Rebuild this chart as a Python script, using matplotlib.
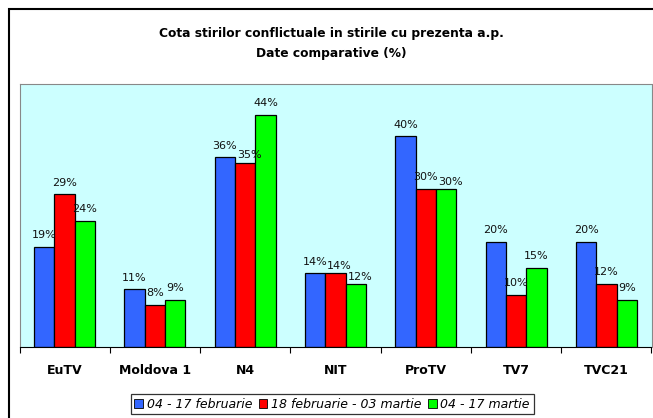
import matplotlib
matplotlib.use("Agg")
import matplotlib.pyplot as plt
import numpy as np
from matplotlib.patches import Patch, Rectangle

channels = ["EuTV", "Moldova 1", "N4", "NIT", "ProTV", "TV7", "TVC21"]
periods = ["04 - 17 februarie", "18 februarie - 03 martie", "04 - 17 martie"]
feb = [19, 11, 36, 14, 40, 20, 20]
feb_mar = [29, 8, 35, 14, 30, 10, 12]
mar = [24, 9, 44, 12, 30, 15, 9]
series = [feb, feb_mar, mar]
colors = ["#3366FF", "#FF0000", "#00FF00"]

W, H = 653, 418
fig = plt.figure(figsize=(W / 100, H / 100), dpi=100)

# outer chart frame (right/bottom run off the picture)
fig.patches.append(Rectangle((9 / W, -0.1), 1.2, (H - 9) / H + 0.1, transform=fig.transFigure,
                             fill=False, edgecolor="black", linewidth=1.5))

ax = fig.add_axes([19.5 / W, (H - 347.3) / H, 632 / W, (347.3 - 83.5) / H])
ax.set_facecolor("#CCFFFF")

x = np.arange(len(channels))
bw = 0.225
for i, (vals, c) in enumerate(zip(series, colors)):
    pos = x + (i - 1) * bw
    ax.bar(pos, vals, width=bw, color=c, edgecolor="black", linewidth=0.9, label=periods[i], zorder=2)
    for j, (px, v) in enumerate(zip(pos, vals)):
        dx, dy = 0, 8.4
        # stagger a label that would collide with its left neighbour
        if i > 0 and 0 <= series[i - 1][j] - v <= 2:
            dx, dy = 3, 5.2
        ax.annotate(f"{v}%", (px, v), xytext=(dx, dy), textcoords="offset points",
                    ha="center", va="center", fontsize=8, color="#111111")

ax.set_xlim(-0.5, len(channels) - 0.5)
ax.set_ylim(0, 50)
ax.set_yticks([])
ax.set_xticks(x)
ax.set_xticklabels(channels, fontsize=9, fontweight="bold")
ax.tick_params(axis="x", which="major", length=0, pad=12)
ax.set_xticks(np.arange(len(channels) + 1) - 0.5, minor=True)
ax.tick_params(axis="x", which="minor", length=4, width=0.8, direction="out")
for s in ["top", "right", "left"]:
    ax.spines[s].set_color("#888888")
ax.spines["bottom"].set_color("black")

fig.text(331 / W, 1 - 33 / H, "Cota stirilor conflictuale in stirile cu prezenta a.p.",
         ha="center", va="center", fontsize=8.8, fontweight="bold")
fig.text(331 / W, 1 - 54 / H, "Date comparative (%)",
         ha="center", va="center", fontsize=8.8, fontweight="bold")

handles = [Patch(facecolor=c, edgecolor="black", linewidth=0.6) for c in colors]
leg = fig.legend(handles, periods, loc="center", bbox_to_anchor=(332 / W, 1 - 404 / H), ncol=3,
                 frameon=True, fancybox=False, edgecolor="black", handlelength=0.7, handleheight=0.7,
                 handletextpad=0.3, columnspacing=0.5, borderpad=0.3,
                 prop={"style": "italic", "size": 9})
leg.get_frame().set_linewidth(0.9)

fig.savefig("out.png", dpi=100)
